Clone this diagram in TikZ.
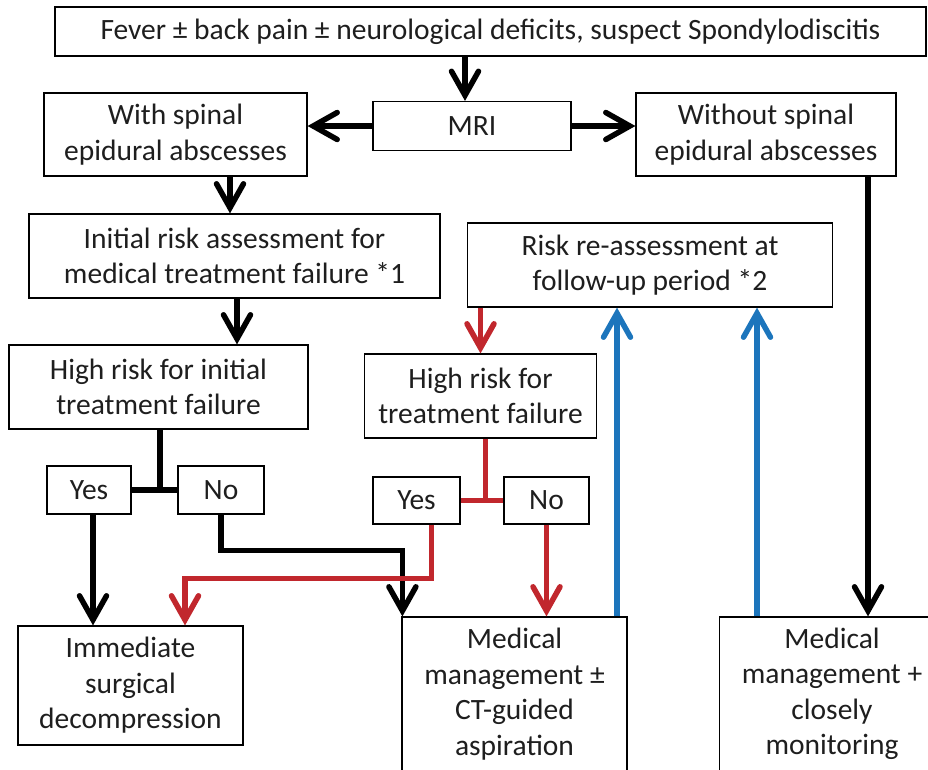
\documentclass[tikz,border=0pt]{standalone}
\usepackage{fontspec}
\setmainfont{Carlito}
\usetikzlibrary{arrows.meta}
\definecolor{flowred}{RGB}{193,39,45}
\definecolor{flowblue}{RGB}{28,117,188}
\definecolor{inktext}{RGB}{30,30,30}
\tikzset{box/.style={draw,line width=1.2pt,inner sep=0pt,align=center,text=inktext,font=\fontsize{29.5}{35.5}\selectfont},
  link/.style={line width=5.5pt},
  flow/.style={link,-{Straight Barb[length=24pt,width=27pt,line cap=round]}},
  redlink/.style={link,flowred},
  redflow/.style={flow,flowred},
  blueflow/.style={flow,flowblue}}

\begin{document}
\begin{tikzpicture}[x=1pt,y=1pt]
\useasboundingbox (0,0) rectangle (928,-769);
\clip (0,0) rectangle (928,-769);
% boxes
\node[box,minimum width=871,minimum height=49] (fever) at (490.5,-31.5) {Fever ± back pain ± neurological deficits, suspect Spondylodiscitis};
\node[box,minimum width=198,minimum height=49] (mri) at (472,-126) {MRI};
\node[box,minimum width=263,minimum height=83] (with) at (175.5,-134.5) {With spinal\\epidural abscesses};
\node[box,minimum width=260,minimum height=83] (without) at (766,-134.5) {Without spinal\\epidural abscesses};
\node[box,minimum width=411,minimum height=84] (initial) at (234.5,-256) {Initial risk assessment for\\medical treatment failure *1};
\node[box,minimum width=365,minimum height=84] (reassess) at (650,-265) {Risk re-assessment at\\follow-up period *2};
\node[box,minimum width=299,minimum height=84] (highinit) at (158.5,-387) {High risk for initial\\treatment failure};
\node[box,minimum width=232,minimum height=84] (highfu) at (480.5,-396) {High risk for\\treatment failure};
\node[box,minimum width=84,minimum height=48] (yesa) at (89,-490) {Yes};
\node[box,minimum width=86,minimum height=48] (noa) at (221,-490) {No};
\node[box,minimum width=87,minimum height=47] (yesb) at (416.5,-500.5) {Yes};
\node[box,minimum width=85,minimum height=47] (nob) at (546.5,-500.5) {No};
\node[box,minimum width=225,minimum height=119] (surgery) at (130.5,-685.5) {Immediate\\surgical\\decompression};
\node[box,minimum width=225,minimum height=154] (medasp) at (514.5,-694) {Medical\\management ±\\CT-guided\\aspiration};
\node[box,minimum width=225,minimum height=154] (medmon) at (832,-694) {Medical\\management +\\closely\\monitoring};
% black arrows
\draw[flow] ([xshift=-7pt]mri.north |- fever.south) -- ([xshift=-7pt]mri.north);
\draw[flow] (mri.west) -- (mri.west -| with.east);
\draw[flow] (mri.east) -- (mri.east -| without.west);
\draw[flow] ([xshift=54.5pt]with.south) -- ([xshift=54.5pt]with.south |- initial.north);
\draw[flow] ([xshift=2.5pt]initial.south) -- ([xshift=2.5pt]initial.south |- highinit.north);
\draw[link] ([xshift=1.5pt]highinit.south) -- ([xshift=1.5pt]highinit.south |- yesa.east);
\draw[link] (yesa.east) -- (noa.west);
\draw[flow] ([xshift=4pt]yesa.south) -- ([xshift=4pt]yesa.south |- surgery.north);
\draw[flow] (noa.south) -- ++(0,-36) -| ([xshift=1pt]medasp.north west);
\draw[flow] ([xshift=102pt]without.south) -- ([xshift=102pt]without.south |- medmon.north);
% red arrows
\draw[redflow] (highfu.north |- reassess.south) -- (highfu.north);
\draw[redlink] ([xshift=5pt]highfu.south) -- ([xshift=5pt]highfu.south |- yesb.east);
\draw[redlink] (yesb.east) -- (nob.west);
\draw[redflow] ([xshift=15pt]yesb.south) -- ++(0,-54) -| ([xshift=54.5pt]surgery.north);
\draw[redflow] (nob.south) -- (nob.south |- medasp.north);
% blue arrows
\draw[blueflow] ([xshift=102.5pt]medasp.north) -- ([xshift=102.5pt]medasp.north |- reassess.south);
\draw[blueflow] ([xshift=-75pt]medmon.north) -- ([xshift=-75pt]medmon.north |- reassess.south);
\end{tikzpicture}
\end{document}
